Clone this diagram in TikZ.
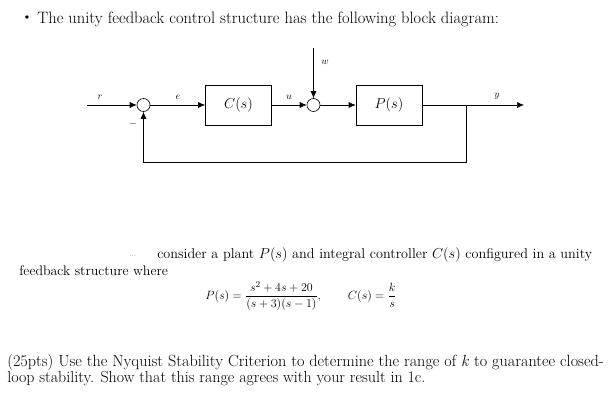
\documentclass[tikz,border=0pt]{standalone}
\usepackage{amsmath}
\usetikzlibrary{positioning,arrows.meta}
\begin{document}
\begin{tikzpicture}[>={Latex[length=7pt,width=6pt]},x=1pt,y=-1pt,line width=0.6pt]
    \tikzstyle{every node}=[inner sep=0pt]
    \tikzstyle{block}=[draw,minimum width=66pt,minimum height=40pt,font=\fontsize{14}{16}\selectfont]
    \tikzstyle{sumnode}=[draw,circle,minimum size=13pt]
    \tikzstyle{sig}=[font=\fontsize{10}{12}\selectfont]
    \tikzstyle{txt}=[anchor=base west,font=\fontsize{16.5}{19}\selectfont]
    \useasboundingbox(0,0)rectangle(609,403);
    % block diagram
    \node[sumnode] (sum1) at (143.5,105) {};
    \node[block] (ctrl) at (238.5,105) {$C(s)$};
    \node[sumnode] (sum2) at (313.5,105) {};
    \node[block] (plant) at (389,105) {$P(s)$};
    \coordinate (ref) at (87,105);
    \coordinate (dist) at (313.5,48);
    \coordinate (branch) at (466,105);
    \coordinate (outp) at (524,105);
    \coordinate (fb) at (143.5,162);
    \draw[->] (ref) -- (sum1);
    \draw[->] (sum1) -- (ctrl);
    \draw[->] (ctrl) -- (sum2);
    \draw[->] (dist) -- (sum2);
    \draw[->] (sum2) -- (plant);
    \draw[->] (plant) -- (outp);
    \draw[->] (branch) |- (fb) -- (sum1);
    \node[sig] (lr) at (100,97) {$r$};
    \node[sig] (le) at (178,97) {$e$};
    \node[sig] (lu) at (289,97) {$u$};
    \node[sig] (lw) at (325,62) {$w$};
    \node[sig] (ly) at (497,96) {$y$};
    \node[sig] (lm) at (133,124) {$-$};
    % text
    \node[font=\fontsize{15}{18}\selectfont] (bul) at (27,19) {\textbullet};
    \node[txt] (t1) at (37,23.3) {The unity feedback control structure has the following block diagram:};
    \node[anchor=base,font=\tiny] (dots) at (133,256.7) {...};
    \node[txt,font=\fontsize{14.2}{17}\selectfont] (t2) at (157,258.3) {consider a plant $P(s)$ and integral controller $C(s)$ configured in a unity};
    \node[txt,font=\fontsize{13.9}{17}\selectfont] (t3) at (19,275) {feedback structure where};
    \node[font=\fontsize{12.5}{15}\selectfont] (eq) at (301,296)
        {$P(s)=\dfrac{s^2+4s+20}{(s+3)(s-1)},\qquad C(s)=\dfrac{k}{s}$};
    \node[txt,font=\fontsize{16.2}{19}\selectfont] (t4) at (7,366.7) {(25pts) Use the Nyquist Stability Criterion to determine the range of \textit{k} to guarantee closed-};
    \node[txt,font=\fontsize{16}{19}\selectfont] (t5) at (7,382.3) {loop stability. Show that this range agrees with your result in 1c.};
\end{tikzpicture}
\end{document}
